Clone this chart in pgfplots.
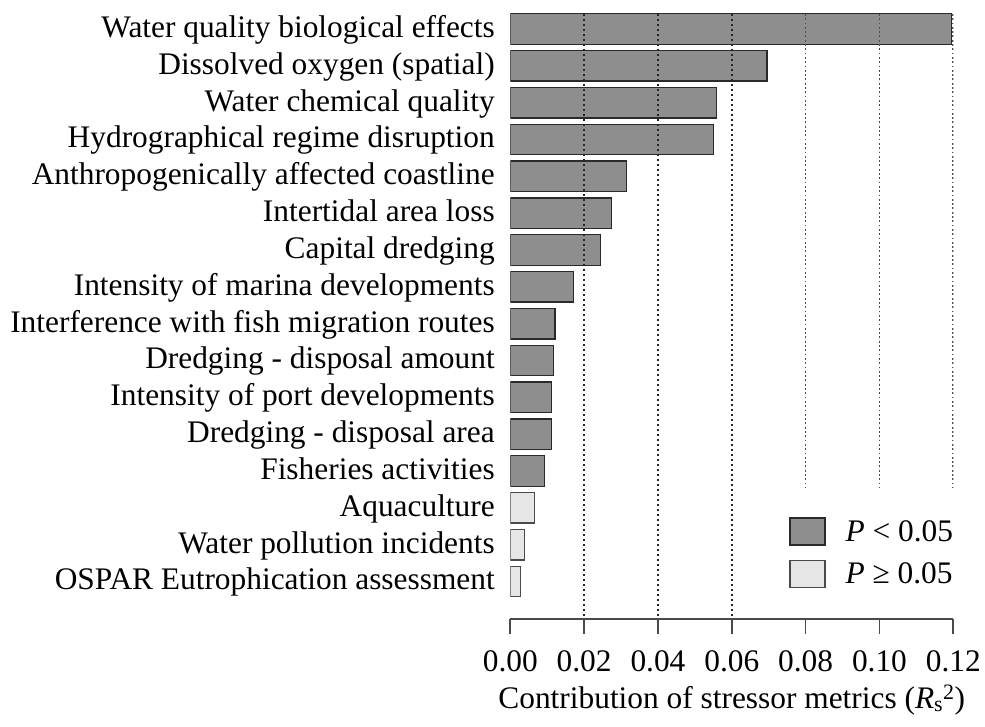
\documentclass[border=0pt]{standalone}
\usepackage{pgfplots}
\pgfplotsset{compat=1.18}
\usepackage{fontspec}
\setmainfont{Liberation Serif}
\definecolor{sig}{HTML}{8E8E8E}
\definecolor{nsig}{HTML}{E6E6E6}
\definecolor{edgec}{HTML}{2A2A2A}
\definecolor{axc}{HTML}{4A4A4A}
\begin{document}
\begin{tikzpicture}
\path[use as bounding box] (-510.3bp,-108bp) rectangle (474.7bp,619bp);
\begin{axis}[
  at={(0,0)}, anchor=south west,
  scale only axis, width=443bp, height=605bp,
  xmin=0, xmax=0.12, ymin=-1.02, ymax=15.407,
  xbar, bar width=30.5bp, bar shift=0pt,
  axis x line*=bottom, axis y line*=left,
  y axis line style={draw=none},
  x axis line style={-, draw=axc, line width=1.6bp},
  tick align=outside,
  major tick length=15bp,
  xtick style={draw=axc, line width=1.6bp},
  ytick style={draw=none},
  xtick={0,0.02,0.04,0.06,0.08,0.10,0.12},
  xticklabels={0.00,0.02,0.04,0.06,0.08,0.10,0.12},
  xticklabel style={font=\fontsize{31.5}{31.5}\selectfont, anchor=base, yshift=-37bp},
  ytick={0,1,2,3,4,5,6,7,8,9,10,11,12,13,14,15},
  yticklabels={OSPAR Eutrophication assessment,Water pollution incidents,Aquaculture,Fisheries activities,Dredging - disposal area,Intensity of port developments,Dredging - disposal amount,Interference with fish migration routes,Intensity of marina developments,Capital dredging,Intertidal area loss,Anthropogenically affected coastline,Hydrographical regime disruption,Water chemical quality,Dissolved oxygen (spatial),Water quality biological effects},
  yticklabel style={font=\fontsize{31.5}{31.5}\selectfont, anchor=base east, yshift=-8.5bp, xshift=3bp},
  xlabel={Contribution of stressor metrics (\textit{R}\textsubscript{s}\textsuperscript{2})},
  xlabel style={font=\fontsize{31.5}{31.5}\selectfont, anchor=base, at={(rel axis cs:0.5,0)}, yshift=-89bp},
  legend style={at={(rel axis cs:1,0)}, anchor=south east, yshift=31bp, draw=none, fill=none,
    inner sep=0pt, nodes={inner sep=0pt}, row sep=14bp, column sep=20bp,
    font=\fontsize{31.5}{31.5}\selectfont},
  legend cell align=left,
  legend image code/.code={\draw[#1, line width=1.3bp] (0bp,-13.5bp) rectangle (35bp,13.5bp);},
]
\addplot[fill=sig, draw=edgec, line width=1.3bp] coordinates {
 (0.1195,15) (0.0695,14) (0.0559,13) (0.0550,12) (0.0315,11) (0.0274,10) (0.0245,9)
 (0.0171,8) (0.0121,7) (0.0117,6) (0.0112,5) (0.0112,4) (0.0092,3)
};
\addlegendentry{\textit{P} < 0.05}
\addplot[fill=nsig, draw=edgec!85, line width=1.3bp] coordinates {
 (0.0065,2) (0.0038,1) (0.0028,0)
};
\addlegendentry{\textit{P} ≥ 0.05}
\draw[black!85, line width=1.6bp, dash pattern=on 1.8bp off 3.2bp] (axis cs:0.02,15.407) -- (axis cs:0.02,-0.95);
\draw[black!85, line width=1.6bp, dash pattern=on 1.8bp off 3.2bp] (axis cs:0.04,15.407) -- (axis cs:0.04,-0.95);
\draw[black!85, line width=1.6bp, dash pattern=on 1.8bp off 3.2bp] (axis cs:0.06,15.407) -- (axis cs:0.06,-0.95);
\draw[black!70, line width=1.6bp, dash pattern=on 1.8bp off 2.5bp] (axis cs:0.08,15.407) -- (axis cs:0.08,2.56);
\draw[black!70, line width=1.6bp, dash pattern=on 1.8bp off 2.5bp] (axis cs:0.10,15.407) -- (axis cs:0.10,2.56);
\draw[black!70, line width=1.6bp, dash pattern=on 1.8bp off 2.5bp] (axis cs:0.12,15.407) -- (axis cs:0.12,2.56);
\end{axis}
\end{tikzpicture}
\end{document}
